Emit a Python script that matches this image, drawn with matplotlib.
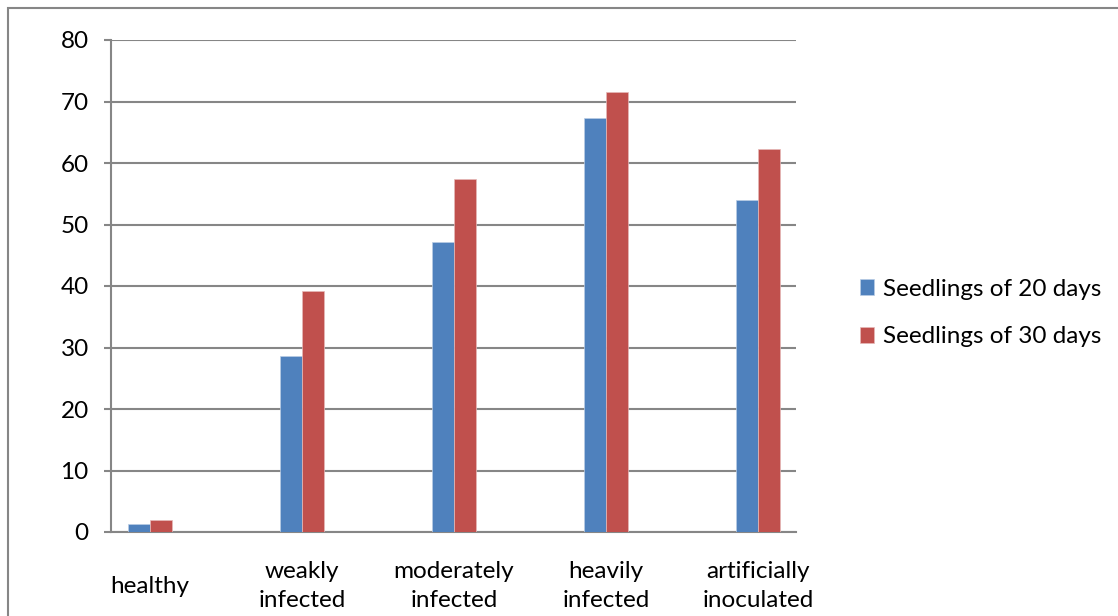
import matplotlib.pyplot as plt
import matplotlib.patches as mpatches
import numpy as np

categories = ['healthy', 'weakly\ninfected', 'moderately\ninfected', 'heavily\ninfected', 'artificially\ninoculated']
days_20 = [1.3, 28.6, 47.2, 67.3, 54.0]
days_30 = [1.9, 39.2, 57.4, 71.6, 62.2]
series_names = ['Seedlings of 20 days', 'Seedlings of 30 days']

plt.rcParams['font.family'] = ['Lato', 'DejaVu Sans']

fig = plt.figure(figsize=(11.18, 6.16), dpi=100)
ax = fig.add_axes([111 / 1118, 84 / 616, 685 / 1118, 492 / 616])

# outer chart border
fig.patches.append(mpatches.Rectangle((8 / 1118, -0.1), 1.2, 0.1 + 608 / 616,
                                      transform=fig.transFigure, fill=False,
                                      edgecolor='#868686', linewidth=1.5))

x = np.arange(len(categories))
w = 0.145
ax.bar(x - w / 2, days_20, w, color='#4F81BD', edgecolor='#B9CDE5', linewidth=0.5,
       label=series_names[0], zorder=3)
ax.bar(x + w / 2, days_30, w, color='#C0504D', edgecolor='#E6B9B8', linewidth=0.5,
       label=series_names[1], zorder=3)

ax.set_ylim(0, 80)
ax.set_xlim(-0.257, 4.25)
ax.set_yticks(range(0, 81, 10))
ax.yaxis.grid(True, color='#868686', linewidth=1.5)
ax.set_axisbelow(True)

for side in ['top', 'right']:
    ax.spines[side].set_visible(False)
ax.spines['left'].set_color('#868686')
ax.spines['left'].set_linewidth(1.5)
ax.spines['bottom'].set_color('#868686')
ax.spines['bottom'].set_linewidth(1.5)

ax.tick_params(axis='y', length=5, width=1.5, color='#868686', labelsize=17.5, pad=11)
ax.set_xticks(x)
ax.set_xticklabels(categories, fontsize=17.5, va='center', linespacing=1.45)
ax.tick_params(axis='x', length=0, pad=39)

fig.legend(loc='center left', bbox_to_anchor=(838 / 1118, 1 - 313 / 616),
           frameon=False, fontsize=17.5, handlelength=0.6, handleheight=0.6,
           handletextpad=0.35, labelspacing=1.1)

plt.savefig('out.png', dpi=100)
